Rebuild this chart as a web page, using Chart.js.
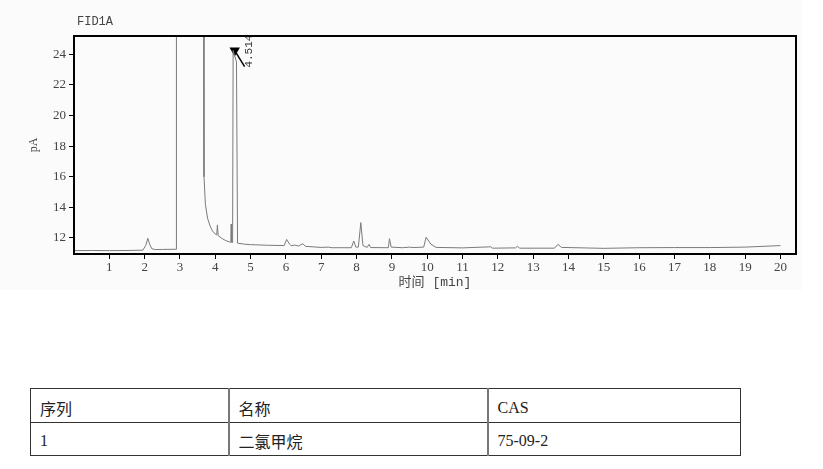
<!DOCTYPE html>
<html>
<head>
<meta charset="utf-8">
<script src="https://cdn.jsdelivr.net/npm/chart.js@4/dist/chart.umd.min.js"></script>
<style>
  html, body { margin: 0; padding: 0; background: #fff; }
  #wrap { position: absolute; left: 0; top: 0; width: 802px; height: 290px; background: #fbfbfb; }
  #info { position: absolute; left: 30px; top: 388px; width: 710px; table-layout: fixed; border-collapse: collapse;
          font-family: "Liberation Serif", "Noto Sans CJK SC", serif; font-size: 16px; color: #222; }
  #info td { box-sizing: border-box; border: 1.5px solid #333; padding: 4px 0 0 9px; text-align: left; vertical-align: middle; }
  #info td + td { border-left: 2px solid #777; }
</style>
</head>
<body>
<div id="wrap"><canvas id="chrom" width="802" height="290"></canvas></div>
<table id="info">
  <colgroup><col style="width:198px"><col style="width:259px"><col style="width:253px"></colgroup>
  <tr style="height:34px"><td>序列</td><td>名称</td><td>CAS</td></tr>
  <tr style="height:33px"><td>1</td><td>二氯甲烷</td><td>75-09-2</td></tr>
</table>
<script>
// FID1A trace (time in min, signal in pA)
const timeMin = [0, 0.5, 1.0, 1.5, 1.95, 2.03, 2.09, 2.14, 2.2, 2.3, 2.5, 2.89,
  2.9, 3.66, 3.68, 3.72, 3.78, 3.85, 3.92, 4.0, 4.04, 4.06, 4.08, 4.2, 4.3, 4.4,
  4.44, 4.45, 4.46, 4.49, 4.505, 4.6, 4.63, 4.8, 5.0, 5.5, 5.95, 6.02, 6.1, 6.15,
  6.25, 6.35, 6.48, 6.55, 7.0, 7.2, 7.3, 7.85, 7.92, 7.98, 8.05, 8.12, 8.18, 8.3,
  8.35, 8.4, 8.9, 8.93, 8.98, 9.3, 9.5, 9.6, 9.9, 9.97, 10.1, 10.25, 11.0, 11.8,
  11.85, 12.5, 12.55, 12.62, 13.6, 13.7, 13.8, 15.0, 16.0, 17.0, 18.0, 19.0, 20.0];
const signalPA = [11.17, 11.18, 11.17, 11.18, 11.2, 11.5, 11.98, 11.6, 11.3, 11.24, 11.25, 11.26,
  40, 40, 16.0, 14.2, 13.3, 12.8, 12.45, 12.25, 12.2, 12.85, 12.15, 11.95, 11.82, 11.74,
  11.72, 12.9, 11.72, 11.7, 24.25, 23.5, 11.66, 11.6, 11.56, 11.52, 11.5, 11.9, 11.6, 11.5,
  11.53, 11.47, 11.62, 11.45, 11.38, 11.4, 11.36, 11.36, 11.8, 11.4, 11.4, 13.0, 11.5, 11.38,
  11.58, 11.37, 11.36, 11.95, 11.4, 11.36, 11.4, 11.37, 11.4, 12.05, 11.6, 11.38, 11.35, 11.42,
  11.33, 11.35, 11.45, 11.33, 11.33, 11.58, 11.38, 11.32, 11.36, 11.37, 11.37, 11.4, 11.5];

const xTicks = [1, 2, 3, 4, 5, 6, 7, 8, 9, 10, 11, 12, 13, 14, 15, 16, 17, 18, 19, 20];
const yTicks = [12, 14, 16, 18, 20, 22, 24];

// peak marker (triangle + leader) and its retention time label
const peakLabel = '4.514';
const markerX = [4.55, 4.83];
const markerY = [24.25, 23.2];

const traceData = timeMin.map((t, i) => ({x: t, y: signalPA[i]}));
const markerData = markerX.map((t, i) => ({x: t, y: markerY[i]}));

const tickFont = {family: '"Liberation Serif", serif', size: 13};

// draw the box around the plot, the title and the peak label
const extras = {
  id: 'extras',
  afterDatasetsDraw(chart) {
    const {ctx, chartArea: a, scales} = chart;
    ctx.save();
    ctx.beginPath();
    ctx.rect(a.left, a.top, a.right - a.left, a.bottom - a.top);
    ctx.clip();
    ctx.fillStyle = '#333';
    ctx.font = '11px "Liberation Mono", monospace';
    ctx.translate(scales.x.getPixelForValue(markerX[1]) + 4, scales.y.getPixelForValue(markerY[1]) + 1);
    ctx.rotate(-Math.PI / 2);
    ctx.textBaseline = 'middle';
    ctx.textAlign = 'left';
    ctx.fillText(peakLabel, 0, 0);
    ctx.restore();

    ctx.save();
    ctx.strokeStyle = '#000';
    ctx.lineWidth = 2;
    ctx.strokeRect(a.left, a.top, a.right - a.left, a.bottom - a.top);
    ctx.fillStyle = '#444';
    ctx.font = '12px "Liberation Mono", monospace';
    ctx.textBaseline = 'middle';
    ctx.fillText('FID1A', 77, 22);
    ctx.restore();
  }
};

new Chart(document.getElementById('chrom'), {
  type: 'line',
  data: {
    datasets: [
      {data: traceData, borderColor: '#7a7a7a', borderWidth: 1, pointRadius: 0, tension: 0},
      {data: markerData, borderColor: '#000', backgroundColor: '#000', borderWidth: 1.5,
       pointRadius: [4.5, 0], pointStyle: 'triangle', rotation: 180, tension: 0}
    ]
  },
  options: {
    responsive: false,
    animation: false,
    layout: {padding: {top: 36, right: 6, left: 0, bottom: 0}},
    plugins: {legend: {display: false}, tooltip: {enabled: false}},
    scales: {
      x: {
        type: 'linear', min: 0, max: 20.44,
        afterBuildTicks: s => { s.ticks = xTicks.map(v => ({value: v})); },
        afterFit: s => { s.height = 36; },
        grid: {drawOnChartArea: false, drawTicks: true, tickLength: 5, color: '#000'},
        border: {display: true, color: '#000', width: 2},
        ticks: {color: '#444', font: tickFont, padding: 1, maxRotation: 0},
        title: {display: true, text: '时间 [min]', color: '#444',
                font: {family: '"Liberation Mono", "Noto Sans CJK SC", monospace', size: 13}, padding: 0}
      },
      y: {
        type: 'linear', min: 10.95, max: 25.2,
        afterBuildTicks: s => { s.ticks = yTicks.map(v => ({value: v})); },
        afterFit: s => { s.width = 74; },
        grid: {drawOnChartArea: false, drawTicks: true, tickLength: 5, color: '#000'},
        border: {display: true, color: '#000', width: 2},
        ticks: {color: '#444', font: tickFont, padding: 3},
        title: {display: true, text: 'pA', color: '#444',
                font: {family: '"Liberation Serif", serif', size: 12}, padding: {top: 27, bottom: 0}}
      }
    }
  },
  plugins: [extras]
});
</script>
</body>
</html>
